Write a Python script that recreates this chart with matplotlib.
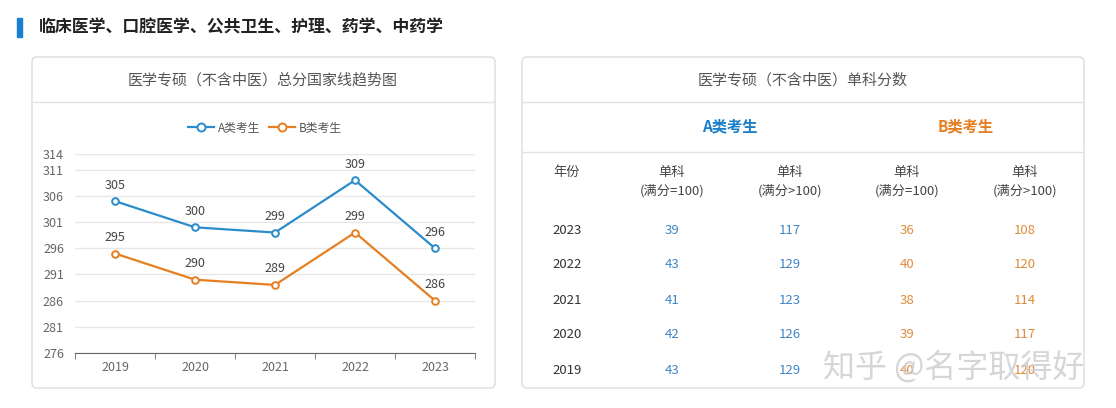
import matplotlib
matplotlib.use("Agg")
import matplotlib.pyplot as plt
from matplotlib.patches import FancyBboxPatch, Rectangle
from matplotlib.lines import Line2D
from matplotlib.transforms import IdentityTransform

plt.rcParams['font.family'] = ['Noto Sans CJK SC', 'DejaVu Sans']

# 数据
anos = ['2019', '2020', '2021', '2022', '2023']
linha_a = [305, 300, 299, 309, 296]
linha_b = [295, 290, 289, 299, 286]
y_ticks = [276, 281, 286, 291, 296, 301, 306, 311, 314]

tabela_anos = ['2023', '2022', '2021', '2020', '2019']
a_cem = [39, 43, 41, 42, 43]
a_mais = [117, 129, 123, 126, 129]
b_cem = [36, 40, 38, 39, 40]
b_mais = [108, 120, 114, 117, 120]

AZUL = '#2a8ccb'
LARANJA = '#e67e22'
AZUL_T = '#3f86c4'
LARANJA_T = '#e08a3c'

W, H = 1116, 408
fig = plt.figure(figsize=(W / 100, H / 100), dpi=100)
fig.patch.set_facecolor('white')


def fx(px):
    return px / W


def fy(py):
    return 1 - py / H


def caixa(x0, y0, x1, y1):
    p = FancyBboxPatch((x0, H - y1), x1 - x0, y1 - y0,
                       boxstyle='round,pad=0,rounding_size=5',
                       transform=IdentityTransform(), facecolor='white',
                       edgecolor='#dcdcdc', linewidth=1, zorder=-1)
    fig.add_artist(p)


def hline(x0, x1, y, cor='#e3e3e3'):
    fig.add_artist(Line2D([fx(x0), fx(x1)], [fy(y), fy(y)], color=cor,
                          linewidth=1, transform=fig.transFigure, zorder=-0.5))


# titulo da seção
fig.add_artist(Rectangle((fx(17), fy(37)), fx(5), 19 / H, color='#1a7fd0',
                         transform=fig.transFigure))
fig.text(fx(39), fy(27), '临床医学、口腔医学、公共卫生、护理、药学、中药学',
         fontsize=12.2, fontweight='bold', color='#222222', va='center')

# painel esquerdo
caixa(32, 57, 495, 388)
hline(33, 494, 102)
fig.text(fx(263), fy(80), '医学专硕（不含中医）总分国家线趋势图', fontsize=10.8,
         color='#555555', ha='center', va='center')

ax = fig.add_axes([fx(75), fy(353), fx(400), 199 / H])
ax.set_zorder(2)
ax.patch.set_alpha(0)
x = list(range(len(anos)))
ax.plot(x, linha_a, color=AZUL, linewidth=1.6, marker='o', markersize=4.8,
        markerfacecolor='white', markeredgewidth=1.4, label='A类考生')
ax.plot(x, linha_b, color=LARANJA, linewidth=1.6, marker='o', markersize=4.8,
        markerfacecolor='white', markeredgewidth=1.4, label='B类考生')
for i in x:
    ax.annotate(str(linha_a[i]), (i, linha_a[i]), xytext=(0, 9),
                textcoords='offset points', ha='center', fontsize=9, color='#444444')
    ax.annotate(str(linha_b[i]), (i, linha_b[i]), xytext=(0, 9),
                textcoords='offset points', ha='center', fontsize=9, color='#444444')

ax.set_xlim(-0.5, len(anos) - 0.5)
ax.set_ylim(276, 314)
ax.set_yticks(y_ticks)
ax.set_xticks(x)
ax.set_xticklabels(anos)
ax.set_xticks([i - 0.5 for i in range(len(anos) + 1)], minor=True)
ax.grid(axis='y', color='#e8e8e8', linewidth=1)
ax.set_axisbelow(True)
for s in ['top', 'right', 'left']:
    ax.spines[s].set_visible(False)
ax.spines['bottom'].set_color('#666666')
ax.tick_params(axis='y', length=0, labelsize=9, labelcolor='#666666', pad=8)
ax.tick_params(axis='x', which='major', length=0, labelsize=9,
               labelcolor='#666666', pad=6)
ax.tick_params(axis='x', which='minor', length=4, color='#666666')
ax.legend(loc='center', bbox_to_anchor=(fx(265), fy(128)),
          bbox_transform=fig.transFigure, ncol=2, frameon=False, fontsize=8.5,
          handlelength=2.2, columnspacing=0.8, handletextpad=0.3,
          labelcolor='#555555', markerscale=1.2)

# painel direito
caixa(522, 57, 1084, 388)
hline(523, 1083, 102)
hline(523, 1083, 152)
fig.text(fx(803), fy(80), '医学专硕（不含中医）单科分数', fontsize=10.8,
         color='#555555', ha='center', va='center')
fig.text(fx(730), fy(126), 'A类考生', fontsize=11, fontweight='bold',
         color='#1a7fc8', ha='center', va='center')
fig.text(fx(966), fy(126), 'B类考生', fontsize=11, fontweight='bold',
         color=LARANJA, ha='center', va='center')

colunas_x = [567, 672, 790, 907, 1025]
fig.text(fx(colunas_x[0]), fy(172), '年份', fontsize=9.5, color='#444444',
         ha='center', va='center')
cabecalhos = ['(满分=100)', '(满分>100)', '(满分=100)', '(满分>100)']
for cx, cab in zip(colunas_x[1:], cabecalhos):
    fig.text(fx(cx), fy(172), '单科', fontsize=9.5, color='#444444',
             ha='center', va='center')
    fig.text(fx(cx), fy(191), cab, fontsize=9.5, color='#444444',
             ha='center', va='center')

linhas_y = [230, 265, 300, 335, 370]
for j, ano in enumerate(tabela_anos):
    yy = fy(linhas_y[j])
    fig.text(fx(colunas_x[0]), yy, ano, fontsize=9.5, color='#333333',
             ha='center', va='center')
    fig.text(fx(colunas_x[1]), yy, str(a_cem[j]), fontsize=9.5, color=AZUL_T,
             ha='center', va='center')
    fig.text(fx(colunas_x[2]), yy, str(a_mais[j]), fontsize=9.5, color=AZUL_T,
             ha='center', va='center')
    fig.text(fx(colunas_x[3]), yy, str(b_cem[j]), fontsize=9.5, color=LARANJA_T,
             ha='center', va='center')
    fig.text(fx(colunas_x[4]), yy, str(b_mais[j]), fontsize=9.5, color=LARANJA_T,
             ha='center', va='center')

# marca d'água
fig.text(fx(954), fy(367), '知乎 @名字取得好', fontsize=23, color='#cfcfcf',
         alpha=0.85, ha='center', va='center')

fig.savefig('out.png', dpi=100)
